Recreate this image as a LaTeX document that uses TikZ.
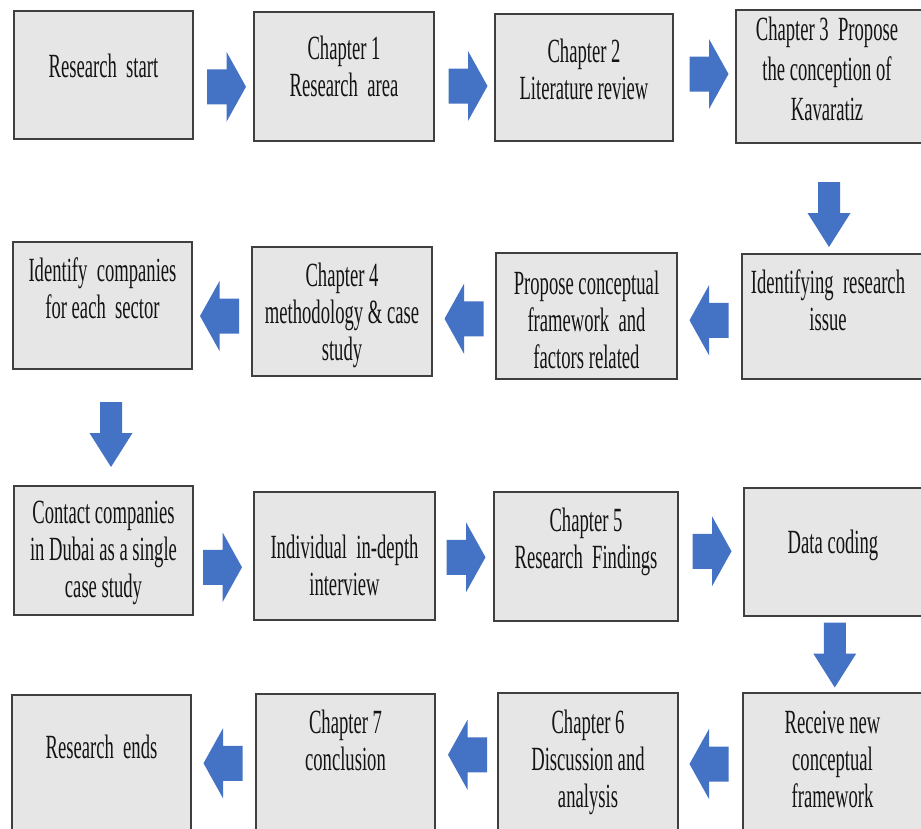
\documentclass[tikz,border=0pt]{standalone}
\usepackage{fontspec}
\newfontfamily\boxfont[FakeStretch=0.55]{Liberation Serif}
\usetikzlibrary{calc}

\definecolor{boxfill}{HTML}{E7E6E6}
\definecolor{boxline}{HTML}{3F3F3F}
\definecolor{flowblue}{HTML}{4472C4}

\tikzset{
  stage/.style={draw=boxline, line width=1.4bp, fill=boxfill, inner sep=0pt, outer sep=0pt},
  % texts are placed by the baseline of their last line
  caption/.style={font=\boxfont\fontsize{34}{37}\selectfont, align=center, anchor=base,
                  inner sep=0pt, text=black!92},
  % short block arrow used between boxes in a row (points along +x)
  harrow/.pic={\fill[flowblue] (-19.5,-17.5) -- (0,-17.5) -- (0,-35) -- (19.5,0)
                -- (0,35) -- (0,17.5) -- (-19.5,17.5) -- cycle;},
  % long block arrow used between rows (points along +x, rotated when placed)
  varrow/.pic={\fill[flowblue] (-32.5,-11) -- (-1.5,-11) -- (-1.5,-21.5) -- (32.5,0)
                -- (-1.5,21.5) -- (-1.5,11) -- (-32.5,11) -- cycle;},
}

\begin{document}
\begin{tikzpicture}[x=1bp, y=-1bp]
\useasboundingbox (0,0) rectangle (921,829);
\fill[white] (0,0) rectangle (921,829);
\clip (0,0) rectangle (921,829);

% ---- boxes -------------------------------------------------------------
\node[stage, minimum width=179bp, minimum height=128bp] (A) at (103.5,75)   {};
\node[stage, minimum width=180bp, minimum height=129bp] (B) at (344,76.5)   {};
\node[stage, minimum width=178bp, minimum height=127bp] (C) at (584,77.5)   {};
\node[stage, minimum width=186bp, minimum height=133bp] (D) at (829,76.5)   {};

\node[stage, minimum width=179bp, minimum height=127bp] (E) at (102.5,305.5) {};
\node[stage, minimum width=180bp, minimum height=129bp] (F) at (342,311.5)   {};
\node[stage, minimum width=181bp, minimum height=126bp] (G) at (586.5,316)   {};
\node[stage, minimum width=180bp, minimum height=125bp] (H) at (832,316.5)   {};

\node[stage, minimum width=179bp, minimum height=129bp] (I) at (103.5,550.5) {};
\node[stage, minimum width=181bp, minimum height=128bp] (J) at (344.5,556)   {};
\node[stage, minimum width=184bp, minimum height=129bp] (K) at (586,556.5)   {};
\node[stage, minimum width=178bp, minimum height=128bp] (L) at (833,552)     {};

\node[stage, minimum width=179bp, minimum height=145bp] (M) at (101.5,767.5) {};
\node[stage, minimum width=179bp, minimum height=146bp] (N) at (345.5,767)   {};
\node[stage, minimum width=180bp, minimum height=147bp] (O) at (588,766.5)   {};
\node[stage, minimum width=179bp, minimum height=147bp] (P) at (832.5,766.5) {};

% ---- box texts ---------------------------------------------------------
\node[caption] (A-t) at (103.5,77) {Research\ \ start};
\node[caption] (B-t) at (344,96)   {Chapter 1\\Research\ \ area};
\node[caption] (C-t) at (584,99)   {Chapter 2\\Literature review};
\node[caption, font=\boxfont\fontsize{34}{40}\selectfont] (D-t) at (827,120)
  {Chapter 3\ \ Propose\\the conception of\\Kavaratiz};

\node[caption] (E-t) at (102.5,318) {Identify\ \ companies\\for each\ \ sector};
\node[caption] (F-t) at (342,360)   {Chapter 4\\methodology \& case\\study};
\node[caption] (G-t) at (586.5,368) {Propose conceptual\\framework\ \ and\\factors related};
\node[caption] (H-t) at (828,330)   {Identifying\ \ research\\issue};

\node[caption] (I-t) at (103.5,597) {Contact companies\\in Dubai as a single\\case study};
\node[caption] (J-t) at (344.5,595) {Individual\ \ in-depth\\interview};
\node[caption] (K-t) at (586,568)   {Chapter 5\\Research\ \ Findings};
\node[caption] (L-t) at (833,553)   {Data coding};

\node[caption] (M-t) at (101.5,758) {Research\ \ ends};
\node[caption] (N-t) at (345.5,770) {Chapter 7\\conclusion};
\node[caption] (O-t) at (588,807)   {Chapter 6\\Discussion and\\analysis};
\node[caption] (P-t) at (832.5,807) {Receive new\\conceptual\\framework};

% ---- flow arrows -------------------------------------------------------
\pic at ($(A.east)!.5!(B.west)+(3,11)$)            {harrow};
\pic at ($(B.east)!.5!(C.west)+(3.5,9)$)           {harrow};
\pic at ($(C.east)!.5!(D.west)+(4.5,-3)$)          {harrow};
\pic[rotate=-90] at ($(D.south)!.5!(H.north)+(-1.5,16)$) {varrow};
\pic[rotate=180] at ($(H.west)!.5!(G.east)+(-0.5,4)$)    {harrow};
\pic[rotate=180] at ($(G.west)!.5!(F.east)+(0,5)$)       {harrow};
\pic[rotate=180] at ($(F.west)!.5!(E.east)+(-2.5,7.5)$)  {harrow};
\pic[rotate=-90] at ($(E.south)!.5!(I.north)+(8,7)$)     {varrow};
\pic at ($(I.east)!.5!(J.west)+(-1,14)$)           {harrow};
\pic at ($(J.east)!.5!(K.west)+(1.5,1)$)           {harrow};
\pic at ($(K.east)!.5!(L.west)+(1,-3)$)            {harrow};
\pic[rotate=-90] at ($(L.south)!.5!(P.north)+(2,0.5)$)   {varrow};
\pic[rotate=180] at ($(P.west)!.5!(O.east)+(-1.5,-2.5)$) {harrow};
\pic[rotate=180] at ($(O.west)!.5!(N.east)+(1,-12)$)     {harrow};
\pic[rotate=180] at ($(N.west)!.5!(M.east)+(-0.5,-4)$)   {harrow};
\end{tikzpicture}
\end{document}
